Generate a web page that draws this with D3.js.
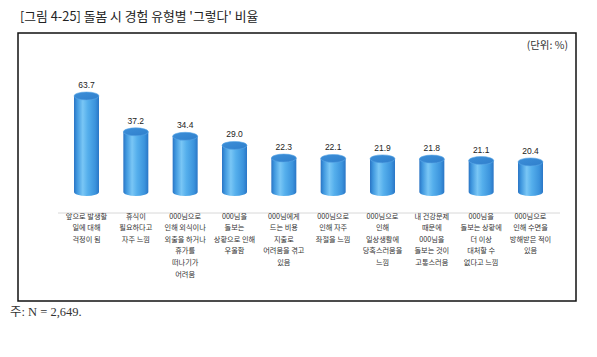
<!DOCTYPE html>
<html><head><meta charset="utf-8">
<script src="https://cdn.jsdelivr.net/npm/d3@7"></script>
<style>body{margin:0;background:#fff}svg{display:block}</style>
</head><body>
<script>
const titleText = "[그림 4-25] 돌봄 시 경험 유형별 '그렇다' 비율";
const unitText = "(단위: %)";
const noteText = "주: N = 2,649.";
const categories = [
  ["앞으로 발생할","일에 대해","걱정이 됨"],
  ["휴식이","필요하다고","자주 느낌"],
  ["000님으로","인해 외식이나","외출을 하거나","휴가를","떠나기가","어려움"],
  ["000님을","돌보는","상황으로 인해","우울함"],
  ["000님에게","드는 비용","지출로","어려움을 겪고","있음"],
  ["000님으로","인해 자주","좌절을 느낌"],
  ["000님으로","인해","일상생활에","당혹스러움을","느낌"],
  ["내 건강문제","때문에","000님을","돌보는 것이","고통스러움"],
  ["000님을","돌보는 상황에","더 이상","대처할 수","없다고 느낌"],
  ["000님으로","인해 수면을","방해받은 적이","있음"]
];
const values = [63.7, 37.2, 34.4, 29.0, 22.3, 22.1, 21.9, 21.8, 21.1, 20.4];

const W = 597, H = 357;
const svg = d3.select("body").append("svg").attr("width", W).attr("height", H);
const defs = svg.append("defs");
const g1 = defs.append("linearGradient").attr("id","body").attr("x1","0").attr("x2","1").attr("y1","0").attr("y2","0");
[["0%","#2a74c4"],["12%","#3f97de"],["35%","#79c6f5"],["55%","#55afec"],["85%","#3b93dc"],["100%","#2a76c6"]]
  .forEach(s=>g1.append("stop").attr("offset",s[0]).attr("stop-color",s[1]));
const g2 = defs.append("linearGradient").attr("id","top").attr("x1","0").attr("x2","1").attr("y1","0").attr("y2","1");
[["0%","#3d8fd8"],["100%","#2f7fcc"]].forEach(s=>g2.append("stop").attr("offset",s[0]).attr("stop-color",s[1]));

// title
svg.append("text").attr("x",20).attr("y",21).attr("font-family","'Noto Sans CJK KR', sans-serif")
  .attr("font-size",12.8).attr("fill","#222").text(titleText);

// frame
svg.append("rect").attr("x",18).attr("y",33).attr("width",558).attr("height",268)
  .attr("fill","none").attr("stroke","#111").attr("stroke-width",1.5);

svg.append("text").attr("x",568).attr("y",49).attr("text-anchor","end")
  .attr("font-family","'Noto Sans CJK KR', sans-serif").attr("font-size",10.5).attr("fill","#333").text(unitText);

const idx = d3.range(values.length);
const x = d3.scalePoint().domain(idx).range([86.5, 530.5]);
const y = d3.scaleSqrt().domain([0, 63.7]).range([248, 96]);
const floorY = 192, bw = 25, ry = 4;

// floor line
svg.append("line").attr("x1",58).attr("x2",560).attr("y1",213).attr("y2",213)
  .attr("stroke","#d8d8d8").attr("stroke-width",1);

const bars = svg.append("g").selectAll("g").data(idx).join("g");
bars.append("path").attr("fill","url(#body)").attr("d", i => {
  const cx = x(i), top = y(values[i]), l = cx - bw/2, r = cx + bw/2;
  return `M${l},${top} L${l},${floorY} A${bw/2},${ry} 0 0 0 ${r},${floorY} L${r},${top} Z`;
});
bars.append("ellipse").attr("cx", i => x(i)).attr("cy", i => y(values[i]))
  .attr("rx", bw/2).attr("ry", ry).attr("fill","url(#top)").attr("stroke","#5aa8e8").attr("stroke-width",0.6);

bars.append("text").attr("x", i => x(i)).attr("y", i => y(values[i]) - ry - 4)
  .attr("text-anchor","middle").attr("font-family","'Liberation Sans', Arial, sans-serif")
  .attr("font-size",8.5).attr("fill","#222").text(i => values[i].toFixed(1));

const lab = svg.append("g").selectAll("text").data(idx).join("text")
  .attr("text-anchor","middle").attr("font-family","'Noto Sans CJK KR', sans-serif")
  .attr("font-size",7.2).attr("fill","#333");
lab.each(function(i){
  d3.select(this).selectAll("tspan").data(categories[i]).join("tspan")
    .attr("x", x(i)).attr("y", (d,k) => 218.5 + k*11.6).text(d => d);
});

svg.append("text").attr("x",10).attr("y",316).attr("font-family","'Liberation Serif', 'Noto Sans CJK KR', serif")
  .attr("font-size",12.5).attr("fill","#333").text(noteText);
</script>
</body></html>
